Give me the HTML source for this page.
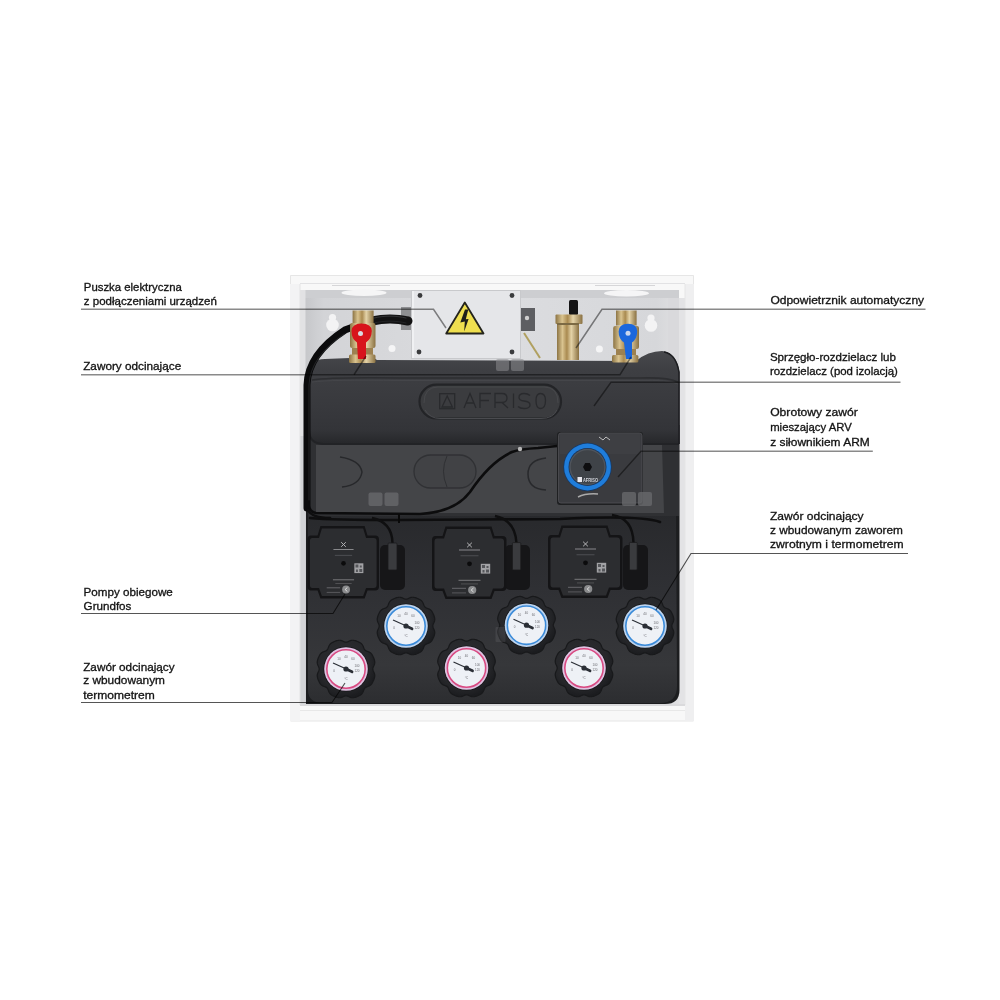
<!DOCTYPE html>
<html><head><meta charset="utf-8">
<style>
html,body{margin:0;padding:0;background:#fff;width:1000px;height:1000px;overflow:hidden}
svg{display:block}
.t{font-family:"Liberation Sans",sans-serif;font-size:11.6px;fill:#141414;stroke:#141414;stroke-width:0.32}
.ln{fill:none;mix-blend-mode:multiply}
.u{stroke:#8a8a8a;stroke-width:1.5}
.l{stroke:#555;stroke-width:1.15}
</style></head><body>
<svg width="1000" height="1000" viewBox="0 0 1000 1000">
<defs>
  <linearGradient id="wall" x1="0" y1="0" x2="1" y2="0">
    <stop offset="0" stop-color="#c6c7ca"/>
    <stop offset="0.05" stop-color="#d3d4d7"/>
    <stop offset="0.5" stop-color="#dcdde0"/>
    <stop offset="0.94" stop-color="#d6d7da"/>
    <stop offset="1" stop-color="#e0e0e2"/>
  </linearGradient>
  <linearGradient id="ins" gradientUnits="userSpaceOnUse" x1="0" y1="351" x2="0" y2="444">
    <stop offset="0" stop-color="#47484c"/>
    <stop offset="0.2" stop-color="#3e3f43"/>
    <stop offset="0.6" stop-color="#38393d"/>
    <stop offset="0.85" stop-color="#333438"/>
    <stop offset="1" stop-color="#26272a"/>
  </linearGradient>
  <linearGradient id="brass" x1="0" y1="0" x2="1" y2="0">
    <stop offset="0" stop-color="#8c7444"/>
    <stop offset="0.25" stop-color="#d9c38f"/>
    <stop offset="0.45" stop-color="#a98a50"/>
    <stop offset="0.65" stop-color="#e4d3a8"/>
    <stop offset="1" stop-color="#8a7142"/>
  </linearGradient>
  <radialGradient id="knob" cx="0.45" cy="0.4" r="0.6">
    <stop offset="0" stop-color="#2e2f33"/>
    <stop offset="0.75" stop-color="#26272a"/>
    <stop offset="1" stop-color="#1b1c1f"/>
  </radialGradient>
  <g id="gface">
    <circle r="18.6" fill="#eef1f6"/>
    <g font-family="Liberation Sans" font-size="3" fill="#6a6a70" text-anchor="middle">
      <text x="-7" y="-9">10</text><text x="0" y="-11.5">40</text><text x="7" y="-9">60</text>
      <text x="11" y="-2">100</text><text x="11" y="3">120</text><text x="-12" y="3">0</text><text x="0" y="11">°C</text>
    </g>
    <path d="M-13 -6 L6 2.5" stroke="#2b2f36" stroke-width="1.2"/>
    <path d="M0 0 L6 2.8" stroke="#2b2f36" stroke-width="2.8" stroke-linecap="round"/>
    <circle r="2.6" fill="#2b2f36"/>
  </g>
  <path id="knurl" d="M26.80 0.00 L26.87 0.70 L27.08 1.42 L27.38 2.15 L27.74 2.92 L28.10 3.70 L28.41 4.50 L28.63 5.31 L28.76 6.11 L28.77 6.91 L28.69 7.69 L28.54 8.45 L28.33 9.21 L28.09 9.95 L27.82 10.68 L27.53 11.40 L27.22 12.12 L26.90 12.83 L26.54 13.53 L26.16 14.20 L25.73 14.85 L25.23 15.46 L24.65 16.01 L24.00 16.49 L23.27 16.90 L22.48 17.25 L21.68 17.55 L20.89 17.84 L20.15 18.14 L19.50 18.50 L18.95 18.95 L18.50 19.50 L18.14 20.15 L17.84 20.89 L17.55 21.68 L17.25 22.48 L16.90 23.27 L16.49 24.00 L16.01 24.65 L15.46 25.23 L14.85 25.73 L14.20 26.16 L13.53 26.54 L12.83 26.90 L12.12 27.22 L11.40 27.53 L10.68 27.82 L9.95 28.09 L9.21 28.33 L8.45 28.54 L7.69 28.69 L6.91 28.77 L6.11 28.76 L5.31 28.63 L4.50 28.41 L3.70 28.10 L2.92 27.74 L2.15 27.38 L1.42 27.08 L0.70 26.87 L0.00 26.80 L-0.70 26.87 L-1.42 27.08 L-2.15 27.38 L-2.92 27.74 L-3.70 28.10 L-4.50 28.41 L-5.31 28.63 L-6.11 28.76 L-6.91 28.77 L-7.69 28.69 L-8.45 28.54 L-9.21 28.33 L-9.95 28.09 L-10.68 27.82 L-11.40 27.53 L-12.12 27.22 L-12.83 26.90 L-13.53 26.54 L-14.20 26.16 L-14.85 25.73 L-15.46 25.23 L-16.01 24.65 L-16.49 24.00 L-16.90 23.27 L-17.25 22.48 L-17.55 21.68 L-17.84 20.89 L-18.14 20.15 L-18.50 19.50 L-18.95 18.95 L-19.50 18.50 L-20.15 18.14 L-20.89 17.84 L-21.68 17.55 L-22.48 17.25 L-23.27 16.90 L-24.00 16.49 L-24.65 16.01 L-25.23 15.46 L-25.73 14.85 L-26.16 14.20 L-26.54 13.53 L-26.90 12.83 L-27.22 12.12 L-27.53 11.40 L-27.82 10.68 L-28.09 9.95 L-28.33 9.21 L-28.54 8.45 L-28.69 7.69 L-28.77 6.91 L-28.76 6.11 L-28.63 5.31 L-28.41 4.50 L-28.10 3.70 L-27.74 2.92 L-27.38 2.15 L-27.08 1.42 L-26.87 0.70 L-26.80 0.00 L-26.87 -0.70 L-27.08 -1.42 L-27.38 -2.15 L-27.74 -2.92 L-28.10 -3.70 L-28.41 -4.50 L-28.63 -5.31 L-28.76 -6.11 L-28.77 -6.91 L-28.69 -7.69 L-28.54 -8.45 L-28.33 -9.21 L-28.09 -9.95 L-27.82 -10.68 L-27.53 -11.40 L-27.22 -12.12 L-26.90 -12.83 L-26.54 -13.53 L-26.16 -14.20 L-25.73 -14.85 L-25.23 -15.46 L-24.65 -16.01 L-24.00 -16.49 L-23.27 -16.90 L-22.48 -17.25 L-21.68 -17.55 L-20.89 -17.84 L-20.15 -18.14 L-19.50 -18.50 L-18.95 -18.95 L-18.50 -19.50 L-18.14 -20.15 L-17.84 -20.89 L-17.55 -21.68 L-17.25 -22.48 L-16.90 -23.27 L-16.49 -24.00 L-16.01 -24.65 L-15.46 -25.23 L-14.85 -25.73 L-14.20 -26.16 L-13.53 -26.54 L-12.83 -26.90 L-12.12 -27.22 L-11.40 -27.53 L-10.68 -27.82 L-9.95 -28.09 L-9.21 -28.33 L-8.45 -28.54 L-7.69 -28.69 L-6.91 -28.77 L-6.11 -28.76 L-5.31 -28.63 L-4.50 -28.41 L-3.70 -28.10 L-2.92 -27.74 L-2.15 -27.38 L-1.42 -27.08 L-0.70 -26.87 L-0.00 -26.80 L0.70 -26.87 L1.42 -27.08 L2.15 -27.38 L2.92 -27.74 L3.70 -28.10 L4.50 -28.41 L5.31 -28.63 L6.11 -28.76 L6.91 -28.77 L7.69 -28.69 L8.45 -28.54 L9.21 -28.33 L9.95 -28.09 L10.68 -27.82 L11.40 -27.53 L12.12 -27.22 L12.83 -26.90 L13.53 -26.54 L14.20 -26.16 L14.85 -25.73 L15.46 -25.23 L16.01 -24.65 L16.49 -24.00 L16.90 -23.27 L17.25 -22.48 L17.55 -21.68 L17.84 -20.89 L18.14 -20.15 L18.50 -19.50 L18.95 -18.95 L19.50 -18.50 L20.15 -18.14 L20.89 -17.84 L21.68 -17.55 L22.48 -17.25 L23.27 -16.90 L24.00 -16.49 L24.65 -16.01 L25.23 -15.46 L25.73 -14.85 L26.16 -14.20 L26.54 -13.53 L26.90 -12.83 L27.22 -12.12 L27.53 -11.40 L27.82 -10.68 L28.09 -9.95 L28.33 -9.21 L28.54 -8.45 L28.69 -7.69 L28.77 -6.91 L28.76 -6.11 L28.63 -5.31 L28.41 -4.50 L28.10 -3.70 L27.74 -2.92 L27.38 -2.15 L27.08 -1.42 L26.87 -0.70 L26.80 -0.00 Z"/>
  <g id="pump">
    <path d="M-34 -27 L-27 -27 L-24 -36.5 L22 -36.5 L25 -27 L33 -27 Q37 -27 37 -23 L37 24 Q37 28 33 28 L25 28 L22 36 L-24 36 L-27 28 L-34 28 Q-37.5 28 -37.5 24 L-37.5 -23 Q-37.5 -27 -34 -27 Z" fill="#141416"/>
    <path d="M-32.5 -24.5 L-25.5 -24.5 L-22.5 -34 L20.5 -34 L23.5 -24.5 L31.5 -24.5 Q34.5 -24.5 34.5 -21.5 L34.5 22.5 Q34.5 25.5 31.5 25.5 L23.5 25.5 L20.5 33.5 L-22.5 33.5 L-25.5 25.5 L-32.5 25.5 Q-35 25.5 -35 22.5 L-35 -21.5 Q-35 -24.5 -32.5 -24.5 Z" fill="#2c2d30"/>
    <path d="M-2.4 -20.3 L2.4 -15.7 M2.4 -20.3 L-2.4 -15.7" stroke="#b4b4b6" stroke-width="1"/>
    <rect x="-10.5" y="-13.5" width="21" height="1" fill="#88888b"/>
    <rect x="-9" y="-7.6" width="18" height="0.8" fill="#55565a"/>
    <circle cx="0" cy="0.8" r="2.4" fill="#0b0b0c"/>
    <rect x="11.3" y="0.8" width="9.4" height="9.8" fill="#a2a2a5"/>
    <path d="M12.5 2 h3 v3 h-3z M17 3 h2 v2 h-2z M13 7 h2 v2.5 h-2z M16.5 6.5 h3 v3 h-3z" fill="#55565a"/>
    <rect x="-11" y="16.8" width="22" height="1" fill="#78787b"/>
    <rect x="-8.5" y="20.6" width="17" height="0.7" fill="#606063"/>
    <rect x="-17.5" y="24.8" width="14" height="1" fill="#66666a"/>
    <rect x="-17.5" y="29.4" width="14" height="1" fill="#58585c"/>
    <circle cx="2.7" cy="27" r="4.1" fill="#8a8b8d"/>
    <path d="M4 25 L1.7 27 L4 29" stroke="#e0e0e0" stroke-width="1" fill="none"/>
  </g>
  <linearGradient id="low" gradientUnits="userSpaceOnUse" x1="0" y1="512" x2="0" y2="703">
    <stop offset="0" stop-color="#28292c"/>
    <stop offset="0.4" stop-color="#2f3034"/>
    <stop offset="0.8" stop-color="#36373a"/>
    <stop offset="1" stop-color="#2c2d30"/>
  </linearGradient>
</defs>
<rect width="1000" height="1000" fill="#fff"/>
<!-- CABINET -->
<g id="cab">
  <rect x="290" y="275" width="404" height="446" fill="#f8f8f8"/>
  <path d="M290.5 721 L290.5 275.5 L693.5 275.5 L693.5 721 Z" fill="none" stroke="#e6e6e6" stroke-width="1"/>
  <rect x="305" y="290" width="374" height="414" fill="url(#wall)"/>
  <rect x="305" y="290" width="374" height="8" fill="#cdced1"/>
  <rect x="668" y="298" width="11" height="80" fill="#d9d9dc"/>
  <rect x="300" y="290" width="5.5" height="146" fill="#e2e2e4"/><rect x="300" y="436" width="5.5" height="268" fill="#d3d4d7"/><rect x="679" y="298" width="6" height="406" fill="#e3e3e5"/><rect x="685" y="284" width="9" height="437" fill="#efeff0"/><rect x="290" y="284" width="10" height="437" fill="#f3f3f4"/>
  <!-- top rim -->
  <rect x="300" y="283" width="385" height="1" fill="#e2e2e4"/><rect x="332" y="285" width="58" height="1" fill="#d6d6d8"/><rect x="595" y="285" width="60" height="1" fill="#d6d6d8"/>
  <ellipse cx="364" cy="292.8" rx="22.5" ry="3.2" fill="#f5f5f6"/>
  <ellipse cx="626.5" cy="293.2" rx="22.5" ry="3.2" fill="#f5f5f6"/>
  <!-- frame edges -->
  <rect x="299.5" y="284" width="1" height="421" fill="#e4e4e4"/>
  <rect x="684.5" y="284" width="1" height="421" fill="#e6e6e6"/>
  <!-- bottom shelf -->
  <rect x="300" y="704" width="385" height="2" fill="#dadadc"/>
  <rect x="300" y="710" width="385" height="1" fill="#e8e8e8"/>
</g>
<!-- TOP HARDWARE -->
<g id="top">
  <circle cx="332.5" cy="325" r="6.3" fill="#f3f3f4"/><circle cx="332.5" cy="317.5" r="3.6" fill="#f3f3f4"/>
  <circle cx="651" cy="325.5" r="6.3" fill="#f3f3f4"/><circle cx="651" cy="318" r="3.6" fill="#f3f3f4"/>
  <circle cx="392" cy="348.4" r="3.5" fill="#f5f5f6"/>
  <circle cx="599.4" cy="349" r="3.5" fill="#f5f5f6"/>
  <!-- brackets -->
  <rect x="401" y="307" width="11" height="23" fill="#8e8f92"/>
  <circle cx="406" cy="318" r="2" fill="#ddd"/>
  <rect x="520" y="308" width="15" height="23" fill="#5d5e62"/>
  <circle cx="527" cy="318" r="2.2" fill="#cfcfcf"/>
  <path d="M524 333 L540 358" stroke="#b0a060" stroke-width="2" fill="none"/>
  <!-- electrical box -->
  <rect x="411" y="290" width="110" height="69" fill="#e5e6e9"/>
  <rect x="411" y="290" width="3" height="69" fill="#f0f1f3"/>
  <rect x="411.5" y="290.5" width="109" height="68" fill="none" stroke="#c8c9cc" stroke-width="1"/>
  <circle cx="420" cy="295.5" r="2.4" fill="#3a3b3d"/><circle cx="512" cy="295.5" r="2.4" fill="#3a3b3d"/>
  <circle cx="419" cy="352" r="2.4" fill="#3a3b3d"/><circle cx="512" cy="352" r="2.4" fill="#3a3b3d"/>
  <path d="M464.8 302.5 L483.5 333.5 L446.2 333.5 Z" fill="#efdf4f" stroke="#24241c" stroke-width="1.8" stroke-linejoin="round"/>
  <path d="M465 309.5 L468.3 309.5 L465.8 319.2 L468.6 319 L464.2 331.5 L464.8 321.5 L460.3 322.5 Z" fill="#1e1e1a"/>
  <!-- air vent -->
  <rect x="569" y="300" width="9" height="15" rx="1.5" fill="#141415"/>
  <rect x="555.5" y="314.5" width="27" height="9.5" rx="1" fill="url(#brass)"/>
  <rect x="557" y="324" width="22" height="36" fill="url(#brass)"/>
  <rect x="557" y="323" width="22" height="2" fill="#7c6a44"/>
</g>
<!-- INSULATION -->
<g id="ins">
  <!-- shadow gap -->
  <path d="M306 425 L679.5 425 L679.5 690 Q679.5 704 665 704 L306 704 Z" fill="#1c1d1f"/>
  <!-- lower block -->
  <path d="M308 512 L676 512 L677 686 Q677 703 660 703 L324 703 Q308 703 308 690 Z" fill="url(#low)"/>
  <!-- middle panel -->
  <rect x="309" y="436" width="370" height="80" fill="#2f3033"/>
  <path d="M316 445 L662 445 L664 513 L316 513 Z" fill="#444548"/>
  <path d="M340 457 Q360 460 362 472 Q360 485 342 487" fill="none" stroke="#27282b" stroke-width="1.5"/>
  <rect x="414" y="455" width="62" height="33" rx="16.5" fill="#414245" stroke="#303134" stroke-width="1.3"/>
  <path d="M447 456 Q440 471 447 487" fill="none" stroke="#2f3033" stroke-width="1"/>
  <path d="M546 458 Q528 460 528 474 Q528 489 546 490" fill="none" stroke="#28292c" stroke-width="1.5"/>
  <!-- top block -->
  <path d="M309 375 Q309 359 325 359 L350 358 Q357 354 364 355 Q372 356 377 360 L636 361 Q648 351 662 351 Q676 352 679.5 372 L679.5 444 L324 444 Q309 444 309 430 Z" fill="url(#ins)"/>
  <path d="M309 430 Q309 444 324 444 L679 444" fill="none" stroke="#222326" stroke-width="2"/>
  <path d="M664 352 Q676 354 679 372 L679 444" fill="none" stroke="#1c1d20" stroke-width="1.5"/>
  <path d="M312 380 Q330 377 400 378 L640 378 Q668 377 678 382" fill="none" stroke="#2d2e31" stroke-width="1.6"/>
  <path d="M312 382 Q330 379.5 400 380.5 L640 380.5 Q668 379.5 678 384" fill="none" stroke="#45464a" stroke-width="1"/>
  <rect x="419.5" y="384.7" width="141.5" height="33.8" rx="16.9" fill="#3b3c3f" stroke="#232427" stroke-width="2.2"/>
  <path d="M425 410 Q430 418.5 440 418.5 L541 418.5 Q553 418.5 557 410" fill="none" stroke="#4a4b4f" stroke-width="1"/>
  <path d="M424 403 Q424 387 438 387 L544 387 Q558 387 558 403" fill="none" stroke="#47484b" stroke-width="1"/>
  <g fill="none" stroke="#292a2d" stroke-width="1.3">
    <rect x="439.7" y="393.7" width="15" height="15"/>
    <path d="M442 407 L447.2 396 L452.4 407 Z"/>
    <path d="M464 408 L470 393.5 L476 408 M466.5 403 L473.5 403"/>
    <path d="M480 408 L480 393.5 L491 393.5 M480 400.5 L489 400.5"/>
    <path d="M495 408 L495 393.5 L502 393.5 Q507 393.5 507 398 Q507 402.5 502 402.5 L495 402.5 M502 402.5 L508 408"/>
    <path d="M513.5 393.5 L513.5 408"/>
    <path d="M530 395.5 Q528 393.5 524 393.5 Q519 393.5 519 397.5 Q519 400.5 524 401 Q530 401.5 530 405 Q530 408.5 524 408.5 Q520 408.5 518 406.5"/>
    <path d="M536 400.5 Q536 393.5 540.5 393.5 Q545.5 393.5 545.5 400.5 Q545.5 408.5 540.5 408.5 Q536 408.5 536 400.5 Z"/>
  </g>

</g>
<!-- CABLES -->
<g fill="none" stroke-linecap="round">
  <path d="M408 321 C395 318 385 318 372 321" stroke="#121213" stroke-width="9"/>
  <path d="M406 318 C395 315.5 385 315.5 374 318" stroke="#3a3b3e" stroke-width="0.8"/>
  <path d="M406 323 C395 320.5 385 320.5 374 323" stroke="#2a2b2e" stroke-width="0.7"/>
  <path d="M557 446 L538 448 Q520 449 512 452 Q490 462 470 492 Q455 512 420 514 L316 513 Q308 512 308 500" stroke="#0c0c0d" stroke-width="2.6"/>
  <path d="M307 508 L307 385 Q308 354 345 330 L353 327" stroke="#0b0b0c" stroke-width="7"/>
  <path d="M309 500 L309 385 Q310 357 344 334" stroke="#2e2f32" stroke-width="0.7"/>
  <path d="M310 518 Q330 520 400 520 L560 519 Q640 515 660 522" stroke="#0e0e0f" stroke-width="2.6"/>
  <path d="M308 510 Q312 518 330 518" stroke="#0e0e0f" stroke-width="2.6"/>
  <circle cx="520" cy="449" r="2.2" fill="#b8b8b8" stroke="none"/>
  <rect x="398" y="514" width="2" height="9" fill="#090909" stroke="none"/>
</g>
<g id="valves">
  <!-- red valve -->
  <rect x="352.6" y="310.5" width="21" height="13" fill="url(#brass)"/>
  <rect x="350" y="323" width="25.5" height="25" rx="2" fill="url(#brass)"/>
  <rect x="352" y="348" width="21" height="7" fill="#9d8150"/>
  <rect x="349" y="354.5" width="26.5" height="8.5" rx="1.5" fill="url(#brass)"/>
  <path d="M351.5 331 Q352 323.5 361.5 323.5 Q371.5 323.5 371.8 331 Q371.5 339 366 342.5 L366 359 L358 359 L357 342.5 Q351.5 339 351.5 331 Z" fill="#d8141c"/>
  <circle cx="360.5" cy="333.5" r="2.5" fill="#d9dbe2"/>
  <!-- blue valve -->
  <rect x="616" y="310.5" width="20.6" height="15" fill="url(#brass)"/>
  <rect x="613.2" y="326" width="25.8" height="23" rx="2" fill="url(#brass)"/>
  <rect x="616" y="349" width="20" height="6" fill="#9d8150"/>
  <rect x="612" y="355" width="26.4" height="7.5" rx="1.5" fill="url(#brass)"/>
  <path d="M618.6 331.5 Q619 323.8 628 323.8 Q637.2 323.8 637.2 331.5 Q637 339 632 342.5 L632 359 L626 359 L624 342.5 Q618.6 339 618.6 331.5 Z" fill="#1b67dd"/>
  <circle cx="628" cy="333.3" r="2.5" fill="#c9d6ee"/>
</g>
<!-- ACTUATOR -->
<g id="act">
  <rect x="557" y="432" width="86" height="73" rx="3" fill="#1f2022"/>
  <rect x="558.5" y="433" width="83.5" height="70" rx="2.5" fill="#3a3b3f" stroke="#505155" stroke-width="0.8"/>
  <rect x="560" y="434" width="80" height="20" fill="#3e3f43"/>
  <circle cx="587.5" cy="467" r="24.2" fill="#153a68"/>
  <circle cx="587.5" cy="467" r="23.4" fill="#1f7ddb"/>
  <circle cx="587.5" cy="467" r="19" fill="#1b3558"/>
  <circle cx="587.5" cy="467" r="18.2" fill="#50555c"/><circle cx="587.5" cy="467" r="16.8" fill="#3f4348"/>
  <path d="M583 467 L585.2 463 L589.8 463 L592 467 L589.8 471 L585.2 471 Z" fill="#0e0e10"/>
  <rect x="577.5" y="477" width="4.5" height="5" fill="#e8e8ee"/>
  <text x="583" y="481.8" font-family="Liberation Sans" font-size="5.2" font-weight="bold" fill="#d0d3da" textLength="15" lengthAdjust="spacingAndGlyphs">AFRISO</text>
  <path d="M599 437 L603 440 L606 437 L610 440" stroke="#ccc" stroke-width="0.9" fill="none"/>
  <path d="M578 497 Q586 493 598 494" stroke="#aaa" stroke-width="1.4" fill="none"/>
</g>
<!-- PUMPS -->
<g id="pumps">
  <g fill="#161618">
    <rect x="380" y="545" width="25" height="45" rx="5"/>
    <rect x="505" y="545" width="25" height="45" rx="5"/>
    <rect x="623" y="545" width="25" height="45" rx="5"/>
  </g>
  <g fill="none" stroke="#0f0f10" stroke-width="2.4">
    <path d="M392.5 543 Q392 522 372 518"/>
    <path d="M516.5 543 Q515 520 495 516"/>
    <path d="M633.5 543 Q633 518 612 515"/>
  </g>
  <g transform="translate(343.5 562.5) scale(0.96 1)"><use href="#pump"/></g>
  <g transform="translate(469.5 563)"><use href="#pump"/></g>
  <g transform="translate(585.5 562)"><use href="#pump"/></g>
  <g fill="#3a3b3e" stroke="#1a1a1c" stroke-width="0.8">
    <rect x="388" y="543" width="9" height="27" rx="1"/>
    <rect x="512.4" y="542.6" width="8.4" height="27.4" rx="1"/>
    <rect x="629.4" y="542.4" width="7.8" height="27.6" rx="1"/>
  </g>
</g>
<!-- GAUGES -->
<g id="gauges">
  <g transform="translate(406 626)"><use href="#knurl" fill="url(#knob)" stroke="#18191b" stroke-width="1.2"/><circle r="22.6" fill="#17181a"/><circle r="21.8" fill="#bcd3ee"/><circle r="19.8" fill="#f2f4f9"/><use href="#gface"/><circle r="19.2" fill="none" stroke="#3a8ad8" stroke-width="1.6"/></g>
  <g transform="translate(526.5 625.2)"><use href="#knurl" fill="url(#knob)" stroke="#18191b" stroke-width="1.2"/><circle r="22.6" fill="#17181a"/><circle r="21.8" fill="#bcd3ee"/><circle r="19.8" fill="#f2f4f9"/><use href="#gface"/><circle r="19.2" fill="none" stroke="#3a8ad8" stroke-width="1.6"/></g>
  <g transform="translate(645 626)"><use href="#knurl" fill="url(#knob)" stroke="#18191b" stroke-width="1.2"/><circle r="22.6" fill="#17181a"/><circle r="21.8" fill="#bcd3ee"/><circle r="19.8" fill="#f2f4f9"/><use href="#gface"/><circle r="19.2" fill="none" stroke="#3a8ad8" stroke-width="1.6"/></g>
  <g transform="translate(346 669)"><use href="#knurl" fill="url(#knob)" stroke="#18191b" stroke-width="1.2"/><circle r="22.6" fill="#17181a"/><circle r="21.8" fill="#dfc3e2"/><circle r="19.8" fill="#f2f4f9"/><use href="#gface"/><circle r="19.2" fill="none" stroke="#d84a82" stroke-width="1.6"/></g>
  <g transform="translate(466.5 668)"><use href="#knurl" fill="url(#knob)" stroke="#18191b" stroke-width="1.2"/><circle r="22.6" fill="#17181a"/><circle r="21.8" fill="#dfc3e2"/><circle r="19.8" fill="#f2f4f9"/><use href="#gface"/><circle r="19.2" fill="none" stroke="#d84a82" stroke-width="1.6"/></g>
  <g transform="translate(584 668)"><use href="#knurl" fill="url(#knob)" stroke="#18191b" stroke-width="1.2"/><circle r="22.6" fill="#17181a"/><circle r="21.8" fill="#dfc3e2"/><circle r="19.8" fill="#f2f4f9"/><use href="#gface"/><circle r="19.2" fill="none" stroke="#d84a82" stroke-width="1.6"/></g>
</g>
<g id="wm">
  <!-- watermarks -->
  <g fill="#6a6b6e" opacity="0.75">
    <rect x="368.5" y="492.5" width="14" height="13.5" rx="2"/><rect x="384.5" y="492.5" width="14" height="13.5" rx="2"/>
    <rect x="622" y="492" width="14" height="14" rx="2"/><rect x="638" y="492" width="14" height="14" rx="2"/>
  </g>
  <g fill="#8a8b8e" opacity="0.55">
    <rect x="496" y="359" width="13" height="12" rx="2"/><rect x="511" y="359" width="13" height="12" rx="2"/>
  </g>
  <rect x="495.5" y="627" width="10" height="15" rx="1" fill="#8a8b8e" opacity="0.18"/>
</g>
<!-- LABELS -->
<g id="labels">
  <text class="t" x="83.8" y="291" textLength="98" lengthAdjust="spacingAndGlyphs">Puszka elektryczna</text>
  <text class="t" x="83.8" y="304.6" textLength="133" lengthAdjust="spacingAndGlyphs">z podłączeniami urządzeń</text>
  <path class="ln u" d="M81 309.35 L433.5 309.35 L446 328"/>
  <text class="t" x="83.2" y="369.8" textLength="98" lengthAdjust="spacingAndGlyphs">Zawory odcinające</text>
  <path class="ln u" d="M81 374.75 L620 374.75 L631 357"/>
  <path class="ln u" d="M354 374.75 L366 356"/>
  <text class="t" x="83.6" y="595.6" textLength="89.2" lengthAdjust="spacingAndGlyphs">Pompy obiegowe</text>
  <text class="t" x="83.6" y="610.3" textLength="47.8" lengthAdjust="spacingAndGlyphs">Grundfos</text>
  <path class="ln l" d="M81 613.5 L333 613.5 L345 594"/>
  <text class="t" x="83.2" y="670.6" textLength="91.4" lengthAdjust="spacingAndGlyphs">Zawór odcinający</text>
  <text class="t" x="83.2" y="684.4" textLength="81.8" lengthAdjust="spacingAndGlyphs">z wbudowanym</text>
  <text class="t" x="83.2" y="698.8" textLength="71.6" lengthAdjust="spacingAndGlyphs">termometrem</text>
  <path class="ln l" d="M81 702.5 L332 702.5 L345 683"/>
  <text class="t" x="770.4" y="304.4" textLength="153.7" lengthAdjust="spacingAndGlyphs">Odpowietrznik automatyczny</text>
  <path class="ln u" d="M925.5 309.35 L602 309.35 L576 348"/>
  <text class="t" x="769.9" y="361" textLength="126" lengthAdjust="spacingAndGlyphs">Sprzęgło-rozdzielacz lub</text>
  <text class="t" x="769.9" y="375.4" textLength="128" lengthAdjust="spacingAndGlyphs">rozdzielacz (pod izolacją)</text>
  <path class="ln u" d="M900.5 382.35 L611 382.35 L594 406"/>
  <text class="t" x="770.2" y="416.3" textLength="87.6" lengthAdjust="spacingAndGlyphs">Obrotowy zawór</text>
  <text class="t" x="770.2" y="431.2" textLength="81.6" lengthAdjust="spacingAndGlyphs">mieszający ARV</text>
  <text class="t" x="770.2" y="445.6" textLength="99.6" lengthAdjust="spacingAndGlyphs">z siłownikiem ARM</text>
  <path class="ln u" d="M872.8 451.35 L641 451.35 L618 477"/>
  <text class="t" x="770" y="519.9" textLength="93.6" lengthAdjust="spacingAndGlyphs">Zawór odcinający</text>
  <text class="t" x="770" y="534.3" textLength="133" lengthAdjust="spacingAndGlyphs">z wbudowanym zaworem</text>
  <text class="t" x="770" y="548.2" textLength="133.6" lengthAdjust="spacingAndGlyphs">zwrotnym i termometrem</text>
  <path class="ln l" d="M908 553.5 L691 553.5 L656 610"/>
</g>
</svg>
</body></html>
